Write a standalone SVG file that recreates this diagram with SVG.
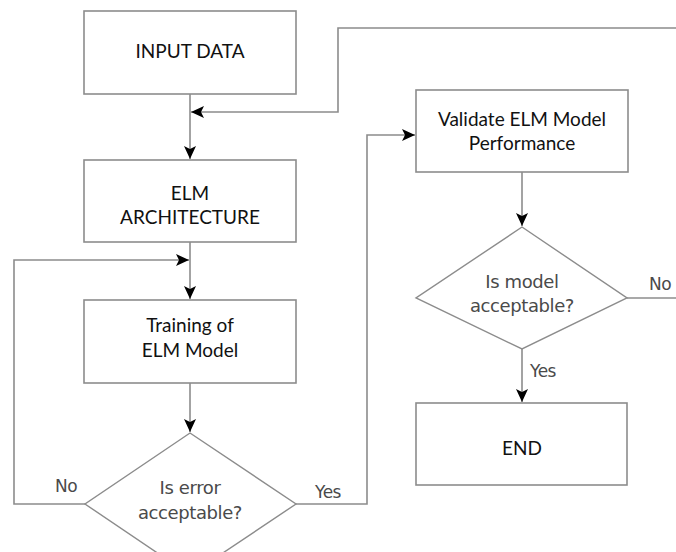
<svg xmlns="http://www.w3.org/2000/svg" width="676" height="552" viewBox="0 0 676 552">
  <style>
    .box { fill: #ffffff; stroke: #8c8c8c; stroke-width: 1.6; }
    .dia { fill: #ffffff; stroke: #8c8c8c; stroke-width: 1.4; }
    .lbl { font-family: Lato, "Liberation Sans", sans-serif; font-size: 19px; fill: #111111; text-anchor: middle; }
    .q { font-family: "DejaVu Sans", "Liberation Sans", sans-serif; font-size: 18px; fill: #4a4a4a; text-anchor: middle; letter-spacing: -0.4px; }
    .edge { fill: none; stroke: #8c8c8c; stroke-width: 1.6; }
    .tag { font-family: "DejaVu Sans", "Liberation Sans", sans-serif; font-size: 17px; fill: #4a4a4a; letter-spacing: -0.5px; }
  </style>
  <defs>
    <marker id="arrow" markerUnits="userSpaceOnUse" markerWidth="14" markerHeight="14" viewBox="0 0 14 14" refX="13" refY="7" orient="auto">
      <path d="M0,1 L13,7 L0,13 L3,7 Z" fill="#000000"/>
    </marker>
  </defs>
  <rect width="676" height="552" fill="#ffffff"/>

  <g id="connectors">
    <!-- input data down to architecture -->
    <path class="edge" d="M190,94 V159" marker-end="url(#arrow)"/>
    <!-- return path from rejected model back into the main line -->
    <path class="edge" d="M676,28 H338 V112 H191" marker-end="url(#arrow)"/>
    <!-- architecture down to training -->
    <path class="edge" d="M190,242 V299" marker-end="url(#arrow)"/>
    <!-- retraining loop -->
    <path class="edge" d="M85,504 H14 V260 H189" marker-end="url(#arrow)"/>
    <!-- training to error decision -->
    <path class="edge" d="M190,383 V432" marker-end="url(#arrow)"/>
    <!-- error acceptable: go to validation -->
    <path class="edge" d="M296,504 H367 V135 H415" marker-end="url(#arrow)"/>
    <!-- validation to model decision -->
    <path class="edge" d="M522,172 V226" marker-end="url(#arrow)"/>
    <!-- model rejected -->
    <path class="edge" d="M627,298 H676"/>
    <!-- model accepted -->
    <path class="edge" d="M522,349 V402" marker-end="url(#arrow)"/>
    <text class="tag" x="55" y="492">No</text>
    <text class="tag" x="315" y="498">Yes</text>
    <text class="tag" x="649" y="290">No</text>
    <text class="tag" x="530" y="377">Yes</text>
  </g>

  <g id="input-data">
    <rect class="box" x="84" y="11" width="212" height="83"/>
    <text class="lbl" x="190" y="58">INPUT DATA</text>
  </g>

  <g id="elm-architecture">
    <rect class="box" x="84" y="160" width="212" height="82"/>
    <text class="lbl" x="190" y="200">ELM</text>
    <text class="lbl" x="190" y="224">ARCHITECTURE</text>
  </g>

  <g id="training">
    <rect class="box" x="84" y="300" width="212" height="83"/>
    <text class="lbl" x="190" y="332">Training of</text>
    <text class="lbl" x="190" y="357">ELM Model</text>
  </g>

  <g id="error-check">
    <polygon class="dia" points="190,433 296,504 190,575 85,504"/>
    <text class="q" x="190" y="494">Is error</text>
    <text class="q" x="190" y="519">acceptable?</text>
  </g>

  <g id="validate">
    <rect class="box" x="416" y="90" width="212" height="82"/>
    <text class="lbl" x="522" y="126">Validate ELM Model</text>
    <text class="lbl" x="522" y="150">Performance</text>
  </g>

  <g id="model-check">
    <polygon class="dia" points="522,227 627,298 522,349 416,298"/>
    <text class="q" x="522" y="288">Is model</text>
    <text class="q" x="522" y="312">acceptable?</text>
  </g>

  <g id="end">
    <rect class="box" x="416" y="403" width="211" height="82"/>
    <text class="lbl" x="522" y="455">END</text>
  </g>
</svg>
